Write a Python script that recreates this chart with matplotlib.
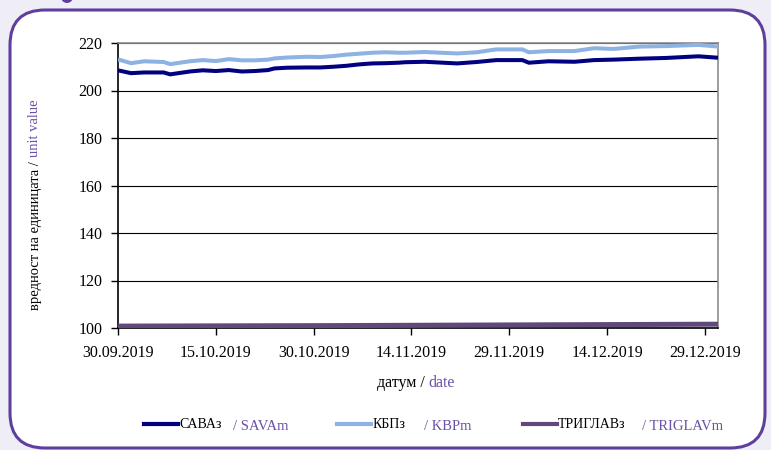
# Imports
import matplotlib
matplotlib.use("Agg")
import matplotlib.pyplot as plt
import matplotlib.dates as mdates
from matplotlib.patches import FancyBboxPatch, Circle
from matplotlib.lines import Line2D
import numpy as np

# Data
dates = [
    "2019-09-30", "2019-10-02", "2019-10-04", "2019-10-07", "2019-10-08",
    "2019-10-11", "2019-10-13", "2019-10-15", "2019-10-17", "2019-10-19",
    "2019-10-21", "2019-10-23", "2019-10-24", "2019-10-26", "2019-10-29",
    "2019-10-31", "2019-11-02", "2019-11-04", "2019-11-06", "2019-11-08",
    "2019-11-10", "2019-11-12", "2019-11-13", "2019-11-16", "2019-11-21",
    "2019-11-24", "2019-11-27", "2019-12-01", "2019-12-02", "2019-12-05",
    "2019-12-09", "2019-12-12", "2019-12-15", "2019-12-19", "2019-12-23",
    "2019-12-28", "2019-12-31",
]
sava = [
    208.5, 207.3, 207.6, 207.6, 206.8, 208.0, 208.5, 208.2, 208.6, 208.0,
    208.2, 208.6, 209.3, 209.6, 209.7, 209.7, 210.0, 210.4, 211.0, 211.4,
    211.5, 211.7, 211.9, 212.1, 211.4, 212.0, 212.8, 212.8, 211.7, 212.3,
    212.1, 212.8, 213.0, 213.4, 213.7, 214.4, 213.8,
]
kbp = [
    213.1, 211.5, 212.3, 212.0, 211.1, 212.3, 212.8, 212.4, 213.2, 212.7,
    212.7, 213.0, 213.5, 213.9, 214.2, 214.1, 214.5, 215.1, 215.5, 215.9,
    216.1, 215.9, 215.9, 216.2, 215.6, 216.1, 217.3, 217.3, 216.1, 216.6,
    216.6, 217.8, 217.5, 218.5, 218.7, 219.2, 218.5,
]
triglav_dates = ["2019-09-30", "2019-10-15", "2019-11-01", "2019-11-20", "2019-12-10", "2019-12-31"]
triglav = [100.8, 100.9, 101.0, 101.2, 101.4, 101.6]

tick_dates = ["2019-09-30", "2019-10-15", "2019-10-30", "2019-11-14",
              "2019-11-29", "2019-12-14", "2019-12-29"]
tick_labels = ["30.09.2019", "15.10.2019", "30.10.2019", "14.11.2019",
               "29.11.2019", "14.12.2019", "29.12.2019"]
y_ticks = [100, 120, 140, 160, 180, 200, 220]

series_names = [("САВАз", "/ SAVAm"), ("КБПз", "/ KBPm"), ("ТРИГЛАВз", "/ TRIGLAVm")]
colors = ["#000080", "#8db3e2", "#604a7b"]
purple = "#6b50a6"

plt.rcParams['font.family'] = ['Liberation Serif', 'DejaVu Serif']

# Init
fig = plt.figure(figsize=(7.71, 4.5), dpi=100)
fig.patch.set_facecolor("#efeef6")

# White rounded frame (behind the axes)
frame = FancyBboxPatch((0.10, 0.02), 7.55, 4.38,
                       boxstyle="round,pad=0,rounding_size=0.35",
                       transform=fig.dpi_scale_trans, facecolor="white",
                       edgecolor="#5f3f9e", linewidth=2.2, zorder=-10)
fig.patches.append(frame)
fig.patches.append(Circle((0.67, 4.53), 0.06, transform=fig.dpi_scale_trans,
                          facecolor="#5f3f9e", edgecolor="none", zorder=-10))

ax = fig.add_axes([118 / 771, 1 - 328 / 450, 600 / 771, 285 / 450])
ax.set_facecolor("none")

x = mdates.date2num(np.array(dates, dtype="datetime64[D]"))
xt = mdates.date2num(np.array(triglav_dates, dtype="datetime64[D]"))
ax.plot(x, sava, color=colors[0], lw=2.9, solid_capstyle="butt", zorder=3)
ax.plot(x, kbp, color=colors[1], lw=2.9, solid_capstyle="butt", zorder=3)
ax.plot(xt, triglav, color=colors[2], lw=3.6, solid_capstyle="butt", zorder=3)

# Axes
ax.set_xlim(mdates.date2num(np.datetime64("2019-09-30")),
            mdates.date2num(np.datetime64("2019-12-31")))
ax.set_ylim(100, 220)
ax.set_yticks(y_ticks)
ax.set_xticks(mdates.date2num(np.array(tick_dates, dtype="datetime64[D]")))
ax.set_xticklabels(tick_labels)
ax.tick_params(axis="both", labelsize=11.5, length=5, width=1, colors="black")
ax.tick_params(axis="x", pad=7)
ax.tick_params(axis="y", pad=6)
ax.grid(axis="y", color="black", lw=0.8, zorder=1)
ax.spines["left"].set_color("black")
ax.spines["bottom"].set_color("black")
ax.spines["top"].set_color("#8c8c8c")
ax.spines["right"].set_color("#8c8c8c")
for s in ax.spines.values():
    s.set_linewidth(1.2)

renderer = fig.canvas.get_renderer()


def two_tone(xc, yc, first, second, size, rotation=0):
    # Black part followed by purple part, centred on (xc, yc) in pixels
    t1 = fig.text(0, 0, first, fontsize=size, color="black", rotation=rotation,
                  ha="left", va="bottom", transform=None)
    t2 = fig.text(0, 0, second, fontsize=size, color=purple, rotation=rotation,
                  ha="left", va="bottom", transform=None)
    e1 = t1.get_window_extent(renderer)
    e2 = t2.get_window_extent(renderer)
    gap = 4
    if rotation == 0:
        total = e1.width + gap + e2.width
        x0 = xc - total / 2
        t1.set_position((x0, yc - e1.height / 2))
        t2.set_position((x0 + e1.width + gap, yc - e2.height / 2))
    else:
        total = e1.height + gap + e2.height
        y0 = yc - total / 2
        t1.set_position((xc - e1.width / 2, y0))
        t2.set_position((xc - e2.width / 2, y0 + e1.height + gap))


# Labels (pixel coords, origin bottom-left)
two_tone(416, 450 - 383, "датум /", "date", 11.5)
two_tone(35, 450 - 205, "вредност на единицата /", "unit value", 10.5, rotation=90)

# Legend drawn by hand
leg_y = 450 - 424
leg_items = [(144, 179, 233), (337, 373, 424), (523, 558, 642)]
for (lx, tx, sx), (name, eng), c in zip(leg_items, series_names, colors):
    fig.add_artist(Line2D([lx, lx + 34], [leg_y, leg_y], color=c, lw=3,
                          transform=None))
    fig.text(tx, leg_y, name, fontsize=10, color="black", ha="left",
             va="center", transform=None)
    fig.text(sx, leg_y - 3, eng, fontsize=10.5, color=purple, ha="left",
             va="center", transform=None)

# Save plot
fig.savefig("out.png", dpi=100, facecolor=fig.get_facecolor())
